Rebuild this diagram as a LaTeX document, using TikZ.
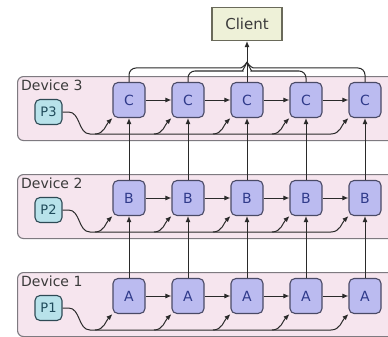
\documentclass[tikz,border=0pt]{standalone}
\usepackage{fontspec}
\setmainfont{DejaVu Sans}
\usetikzlibrary{arrows.meta,calc}

\definecolor{panelfill}{HTML}{F6E5EE}
\definecolor{panelline}{HTML}{7E7A80}
\definecolor{procfill}{HTML}{BBBBF0}
\definecolor{procline}{HTML}{4A4A66}
\definecolor{proctext}{HTML}{2F3A8A}
\definecolor{pfill}{HTML}{B8E2EA}
\definecolor{pline}{HTML}{2E4A55}
\definecolor{ptext}{HTML}{1F4A5A}
\definecolor{clientfill}{HTML}{EEF1D8}
\definecolor{clientline}{HTML}{6A6A5A}
\definecolor{labeltext}{HTML}{3A3A3A}
\definecolor{wirecol}{HTML}{2A2A2A}

\tikzset{
  panel/.style={draw=panelline, fill=panelfill, rounded corners=6pt, line width=1.1pt, inner sep=0pt},
  proc/.style={draw=procline, fill=procfill, rounded corners=5pt, minimum width=32pt, minimum height=35pt,
    inner sep=0pt, line width=1.1pt, text=proctext, font=\fontsize{14}{16}\selectfont},
  pbox/.style={draw=pline, fill=pfill, rounded corners=5pt, minimum width=27pt, minimum height=25pt,
    inner sep=0pt, line width=1.1pt, text=ptext, font=\fontsize{13}{15}\selectfont},
  devlabel/.style={text=labeltext, font=\fontsize{14}{16}\selectfont, inner sep=1pt},
  client/.style={draw=clientline, fill=clientfill, minimum width=70pt, minimum height=33pt,
    inner sep=0pt, line width=1.1pt, text=labeltext, font=\fontsize{15}{17}\selectfont},
  wire/.style={draw=wirecol, line width=1pt},
  arr/.style={wire, -{Latex[length=6pt,width=5pt]}}
}

\begin{document}
\begin{tikzpicture}[x=1pt,y=1pt]
\useasboundingbox (0,0) rectangle (388,-337);
\fill[white] (0,0) rectangle (388,-337);

% three devices, each with its own pipeline of five stages
\foreach \r/\ty/\L in {1/272/A, 2/174/B, 3/76/C} {
  \node[panel, anchor=north west, minimum width=380pt, minimum height=64pt] (dev\r) at (17,-\ty) {};
  \node[devlabel, anchor=north west] (lab\r) at (20,-\ty-3) {Device \r};
  \node[pbox] (p\r) at (48.5,-\ty-36) {P\r};
  \foreach \i/\x in {1/129,2/188,3/247,4/306,5/365}
    \node[proc] (n\r\i) at (\x,-\ty-24) {\L};
  \foreach \i [evaluate=\i as \j using int(\i+1)] in {1,...,4}
    \draw[arr] (n\r\i) -- (n\r\j);
  % parameter bus feeding every stage
  \draw[arr] (p\r.east) -- ++(6,0) to[out=0,in=180] (90,-\ty-58) -- (331,-\ty-58)
    to[out=0,in=-135] (n\r5.south west);
  \foreach \i/\x in {1/129,2/188,3/247,4/306}
    \draw[arr] (\x-34,-\ty-58) to[out=0,in=-135] (n\r\i.south west);
}

% data flowing up between devices
\foreach \i in {1,...,5} {
  \draw[arr] (n1\i.north) -- (n2\i.south);
  \draw[arr] (n2\i.north) -- (n3\i.south);
}

% results gathered by the client
\node[client] (client) at (247,-24) {Client};
\coordinate (m) at (247,-62);
\draw[wire, rounded corners=7pt] (n31.north) |- (234,-68) to[out=0,in=-115] (m);
\draw[wire, rounded corners=7pt] (n32.north) |- (236,-71) to[out=0,in=-110] (m);
\draw[wire, rounded corners=7pt] (n34.north) |- (258,-71) to[out=180,in=-70] (m);
\draw[wire, rounded corners=7pt] (n35.north) |- (260,-68) to[out=180,in=-65] (m);
\draw[arr] (n33.north) -- (client.south);
\end{tikzpicture}
\end{document}
